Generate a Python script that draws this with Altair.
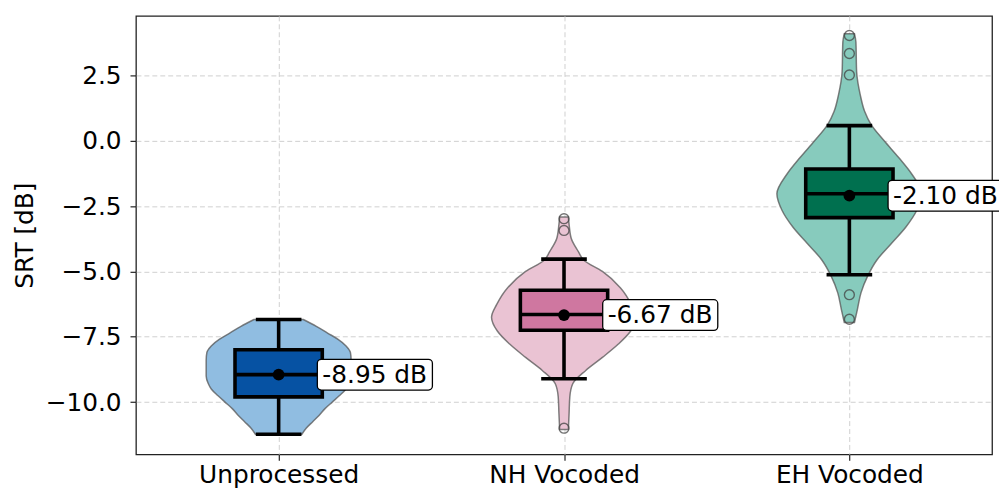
import altair as alt
import pandas as pd

GROUPS = ["Unprocessed", "NH Vocoded", "EH Vocoded"]
VIOLIN_COLORS = ["#90bde1", "#eac3d3", "#87cbbd"]
BOX_COLORS = ["#0652a3", "#cf77a0", "#00704f"]

# violin outlines: SRT level and relative width (1 = widest)
UNPROC_SRT = [-6.84, -7.1, -7.35, -7.6, -7.85, -8.1, -8.4, -8.7, -9.0, -9.3,
              -9.5, -9.75, -10.0, -10.25, -10.5, -10.75, -11.0, -11.23]
UNPROC_WIDTH = [0.34, 0.52, 0.67, 0.82, 0.93, 0.99, 1.0, 1.0, 1.0, 0.97,
                0.93, 0.84, 0.74, 0.64, 0.56, 0.47, 0.38, 0.32]
NH_SRT = [-2.92, -3.2, -3.74, -4.25, -4.56, -5.0, -5.63, -6.27, -6.75, -7.28,
          -7.78, -8.29, -8.79, -9.3, -9.8, -10.44, -11.05]
NH_WIDTH = [0.06, 0.07, 0.10, 0.20, 0.27, 0.53, 0.78, 0.93, 1.0, 0.92,
            0.75, 0.53, 0.30, 0.12, 0.08, 0.07, 0.06]
EH_SRT = [4.1, 3.78, 2.64, 1.76, 1.13, 0.62, 0.0, -0.64, -1.27, -2.03, -2.66,
          -3.3, -3.93, -4.56, -5.19, -5.82, -6.46, -6.95]
EH_WIDTH = [0.07, 0.09, 0.10, 0.15, 0.21, 0.30, 0.48, 0.68, 0.86, 1.0, 0.93,
            0.78, 0.58, 0.38, 0.25, 0.16, 0.11, 0.07]

LOWER = [-11.23, -9.11, -5.13]
Q1 = [-9.80, -7.25, -2.94]
MEDIAN = [-8.95, -6.65, -2.03]
Q3 = [-8.00, -5.72, -1.08]
UPPER = [-6.84, -4.53, 0.58]
MEAN = [-8.95, -6.67, -2.10]

OUTLIER_GROUP = [1, 1, 1, 2, 2, 2, 2, 2]
OUTLIER_SRT = [-2.98, -3.43, -11.0, 4.03, 3.34, 2.52, -5.89, -6.83]

HALF_WIDTH = 0.254

rows = []
for i, (srt, width) in enumerate([(UNPROC_SRT, UNPROC_WIDTH), (NH_SRT, NH_WIDTH), (EH_SRT, EH_WIDTH)]):
    for s, w in zip(srt, width):
        rows.append({"group": GROUPS[i], "srt": s, "left": i - w * HALF_WIDTH,
                     "right": i + w * HALF_WIDTH, "fill": VIOLIN_COLORS[i]})
violins = pd.DataFrame(rows)

stats = pd.DataFrame({
    "group": GROUPS, "pos": range(len(GROUPS)), "lower": LOWER, "q1": Q1,
    "median": MEDIAN, "q3": Q3, "upper": UPPER, "mean": MEAN, "fill": BOX_COLORS,
    "label": [f"{m:.2f} dB" for m in MEAN],
})
outliers = pd.DataFrame({"pos": OUTLIER_GROUP, "srt": OUTLIER_SRT})

label_expr = "[" + ",".join(f"'{g}'" for g in GROUPS) + "][datum.value]"
XSCALE = alt.Scale(domain=[-0.5, 2.5], nice=False, zero=False)
YSCALE = alt.Scale(domain=[-12.0, 4.78], nice=False, zero=False)
XAXIS = alt.Axis(values=[0, 1, 2], labelExpr=label_expr, labelPadding=2)
YAXIS = alt.Axis(values=[-10, -7.5, -5, -2.5, 0, 2.5], format=".1f", labelPadding=9,
                 titleX=-112, titleY=221, titleAngle=-90, titleAlign="center",
                 titleBaseline="middle")


def xq(field):
    return alt.X(f"{field}:Q", scale=XSCALE, axis=XAXIS, title=None, stack=None)


def yq(field):
    return alt.Y(f"{field}:Q", scale=YSCALE, axis=YAXIS, title="SRT [dB]")


violin = alt.Chart(violins).mark_area(
    orient="horizontal", interpolate="monotone", stroke="#555", strokeWidth=1.5,
    strokeOpacity=0.75,
).encode(
    y=yq("srt"), x=xq("left"), x2="right:Q",
    color=alt.Color("fill:N", scale=None), detail="group:N",
)

base = alt.Chart(stats)
whisker = base.mark_rule(color="black", strokeWidth=3.6).encode(
    x=xq("pos"), y=yq("lower"), y2="upper:Q")
box = base.mark_rect(xOffset=-44, x2Offset=44, stroke="black", strokeWidth=3.6).encode(
    x=xq("pos"), x2="pos:Q", y=yq("q1"), y2="q3:Q",
    color=alt.Color("fill:N", scale=None))
cap_lo = base.mark_rule(color="black", strokeWidth=3.6, xOffset=-23, x2Offset=23).encode(
    x=xq("pos"), x2="pos:Q", y=yq("lower"))
cap_hi = base.mark_rule(color="black", strokeWidth=3.6, xOffset=-23, x2Offset=23).encode(
    x=xq("pos"), x2="pos:Q", y=yq("upper"))
median = base.mark_rule(color="black", strokeWidth=3.6, xOffset=-44, x2Offset=44).encode(
    x=xq("pos"), x2="pos:Q", y=yq("median"))
mean = base.mark_circle(color="black", size=140, opacity=1).encode(
    x=xq("pos"), y=yq("mean"))

outlier = alt.Chart(outliers).mark_point(
    shape="circle", filled=False, stroke="#444", strokeWidth=1.4, size=100, opacity=0.75,
).encode(x=xq("pos"), y=yq("srt"))

label_box = base.mark_rect(
    xOffset=39, x2Offset=155, yOffset=-15.5, y2Offset=15.5, fill="white",
    stroke="black", strokeWidth=1.3, cornerRadius=4,
).encode(x=xq("pos"), x2="pos:Q", y=yq("mean"), y2="mean:Q")
label = base.mark_text(
    align="left", baseline="middle", dx=44, fontSize=25, font="DejaVu Sans", color="black",
).encode(x=xq("pos"), y=yq("mean"), text="label:N")

chart = (
    alt.layer(violin, whisker, box, cap_lo, cap_hi, median, mean, outlier, label_box, label)
    .properties(
        width=863, height=442,
        padding={"left": 129, "top": 6, "right": 7, "bottom": 35},
        autosize=alt.AutoSizeParams(type="none"),
    )
    .configure_view(stroke="#222", strokeWidth=1.3)
    .configure_axis(
        labelFont="DejaVu Sans", labelFontSize=25, labelColor="black",
        titleFont="DejaVu Sans", titleFontSize=25, titleFontWeight="normal", titleColor="black",
        tickColor="#222", tickSize=6, tickWidth=1.2, domain=False,
        gridColor="#cfcfcf", gridDash=[5, 3], gridWidth=1,
    )
)

chart.save("out.html", embed_options={"renderer": "svg", "actions": False})
